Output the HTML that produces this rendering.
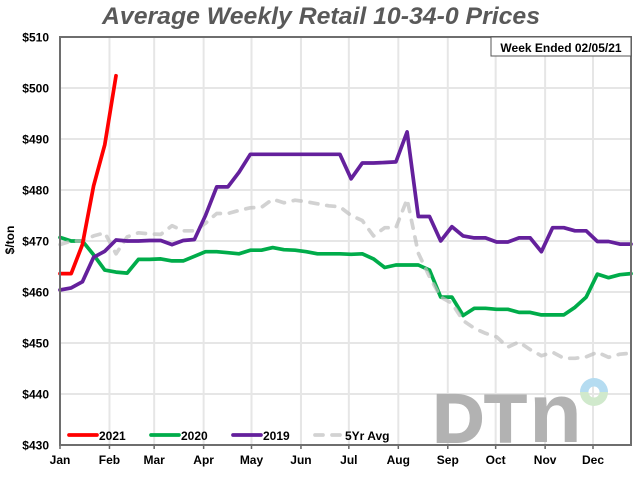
<!DOCTYPE html>
<html lang="en">
<head>
<meta charset="utf-8">
<title>Average Weekly Retail 10-34-0 Prices</title>
<style>
  html, body { margin: 0; padding: 0; background: #fff; }
  svg { display: block; }
  text { font-family: "Liberation Sans", Arial, sans-serif; }
</style>
</head>
<body>
<svg id="chart" xmlns="http://www.w3.org/2000/svg" width="640" height="480" viewBox="0 0 640 480">
  <rect width="640" height="480" fill="#ffffff"/>
  <text x="321" y="24" text-anchor="middle" font-size="24.5" font-weight="bold" font-style="italic" fill="#595959" textLength="438" lengthAdjust="spacingAndGlyphs">Average Weekly Retail 10-34-0 Prices</text>
  <g id="grid"></g>
  <g>
    <text x="433" y="442" font-size="69" font-weight="bold" fill="#b2b2b2" stroke="#b2b2b2" stroke-width="2" textLength="51" lengthAdjust="spacingAndGlyphs">D</text>
    <text x="484" y="442" font-size="69" font-weight="bold" fill="#b2b2b2" stroke="#b2b2b2" stroke-width="1" textLength="43" lengthAdjust="spacingAndGlyphs">T</text>
    <text x="529" y="442" font-size="84" font-weight="bold" fill="#b2b2b2" textLength="53" lengthAdjust="spacingAndGlyphs">n</text>
    <path d="M580 392 A14 14 0 0 1 608 392 L599.5 392 A5.5 5.5 0 0 0 588.5 392 Z" fill="#b5dcf1"/>
    <path d="M580 392 A14 14 0 0 0 608 392 L599.5 392 A5.5 5.5 0 0 1 588.5 392 Z" fill="#d0e9cc"/>
  </g>
  <g id="series"></g>
  <g id="axes"></g>
  <g id="legend"></g>
  <g>
    <rect x="491" y="37" width="140" height="19" fill="#ffffff" stroke="#555555" stroke-width="1"/>
    <text x="561" y="52" text-anchor="middle" font-size="12" font-weight="bold" fill="#000000">Week Ended 02/05/21</text>
  </g>
  <text transform="translate(14 240) rotate(-90)" text-anchor="middle" font-size="12" font-weight="bold" fill="#000000">$/ton</text>
</svg>
<script>
var monthLabels = ["Jan","Feb","Mar","Apr","May","Jun","Jul","Aug","Sep","Oct","Nov","Dec"];
var monthStartDays = [0,31,59,90,120,151,181,212,243,273,304,334];
var priceTicks = [430,440,450,460,470,480,490,500,510];

var prices2021 = [463.6,463.6,469.3,480.8,488.9,502.4];
var prices2020 = [470.7,470,470,467.3,464.3,463.9,463.7,466.4,466.4,466.5,466.1,466.1,467,467.9,467.9,467.7,467.5,468.2,468.2,468.7,468.3,468.2,467.9,467.5,467.5,467.5,467.4,467.5,466.5,464.8,465.3,465.3,465.3,464.3,459,459,455.4,456.8,456.8,456.6,456.6,456,456,455.5,455.5,455.5,457,459,463.5,462.8,463.4,463.6];
var prices2019 = [460.4,460.8,462,466.8,468,470.2,470,470,470.1,470.1,469.3,470.1,470.3,475,480.6,480.6,483.5,487,487,487,487,487,487,487,487,487,482.2,485.3,485.3,485.4,485.5,491.4,474.8,474.8,470,472.8,471,470.6,470.6,469.8,469.8,470.6,470.6,467.9,472.6,472.6,472,472,469.9,469.9,469.4,469.4];
var prices5Yr = [469.3,470,470,471,471.6,467.5,470.8,471.6,471.4,471.3,473,472,472,473.5,475.4,475.4,476,476.5,476.6,478.2,477.5,478,477.7,477.3,476.9,476.7,475,474,471,472.6,472.6,478.2,467.6,463,459,457.8,454.4,452.9,451.9,451.2,449.2,450.2,448.7,447.5,448.2,447,447,447.3,448.2,447.2,447.8,448];

var legendLabels = ["2021","2020","2019","5Yr Avg"];

var NS = "http://www.w3.org/2000/svg";
var plotLeft = 60, plotRight = 631, plotTop = 37, plotBottom = 445;
var weeksInYear = 52;

function xWeek(i) { return plotLeft + i * (plotRight - plotLeft) / (weeksInYear - 1); }
function xDay(d) { return plotLeft + d * 533 / 334; }
function yPrice(v) {
  var lo = priceTicks[0], hi = priceTicks[priceTicks.length - 1];
  return plotBottom - (v - lo) * (plotBottom - plotTop) / (hi - lo);
}
function make(tag, attrs, parent, txt) {
  var el = document.createElementNS(NS, tag);
  for (var k in attrs) el.setAttribute(k, attrs[k]);
  if (txt !== undefined) el.textContent = txt;
  parent.appendChild(el);
  return el;
}

var grid = document.getElementById("grid");
var axes = document.getElementById("axes");
var seriesGroup = document.getElementById("series");
var legend = document.getElementById("legend");

priceTicks.forEach(function (v) {
  var y = yPrice(v);
  var line = make("line", {x1: plotLeft, x2: plotRight, y1: y, y2: y, stroke: "#e6e6e6", "stroke-width": 2}, grid);
  
  
  var label = make("text", {x: 49, y: y + 4.5, "text-anchor": "end", "font-size": 12, "font-weight": "bold", fill: "#000"}, axes, "$" + v);
  
  
});

monthLabels.forEach(function (m, i) {
  var x = xDay(monthStartDays[i]);
  if (i > 0) {
    var line = make("line", {x1: x, x2: x, y1: plotTop, y2: plotBottom, stroke: "#e6e6e6", "stroke-width": 2}, grid);
    
    
  }
  var tick = make("line", {x1: x, x2: x, y1: plotBottom, y2: plotBottom + 4, stroke: "#666", "stroke-width": 1.5}, axes);
  
  
  var label = make("text", {x: x, y: 464, "text-anchor": "middle", "font-size": 12, "font-weight": "bold", fill: "#000"}, axes, m);
  
  
});

function drawSeries(values, color, dash, width, opacity, name) {
  var pts = values.map(function (v, i) { return xWeek(i).toFixed(1) + "," + yPrice(v).toFixed(1); }).join(" ");
  var line = make("polyline", {points: pts, fill: "none", stroke: color, "stroke-width": width, "stroke-opacity": opacity, "stroke-linejoin": "round", "stroke-linecap": "round"}, seriesGroup);
  if (dash) line.setAttribute("stroke-dasharray", dash);
  
  
}
drawSeries(prices2020, "#00ac4a", null, 3.7, 1, "line-2020");
drawSeries(prices5Yr, "#bfbfbf", "8 9", 3.7, 0.7, "line-5yr-avg");
drawSeries(prices2019, "#64209c", null, 3.7, 1, "line-2019");
drawSeries(prices2021, "#ff0000", null, 3.7, 1, "line-2021");

var spine = make("path", {d: "M" + plotLeft + " " + plotBottom + " V" + plotTop + " H" + plotRight + " V" + plotBottom + " Z", fill: "none", stroke: "#6e6e6e", "stroke-width": 2}, axes);



var legendColors = ["#ff0000","#00ac4a","#64209c","#d2d2d2"];
legendLabels.forEach(function (t, i) {
  var x0 = 69 + i * 82;
  var sample = make("line", {x1: x0, x2: x0 + 28, y1: 435, y2: 435, stroke: legendColors[i], "stroke-width": 3.7, "stroke-linecap": "round"}, legend);
  if (i === 3) sample.setAttribute("stroke-dasharray", "8 9");
  
  
  var label = make("text", {x: x0 + 30, y: 440, "font-size": 12, "font-weight": "bold", fill: "#000"}, legend, t);
  
  
});
</script>
</body>
</html>
